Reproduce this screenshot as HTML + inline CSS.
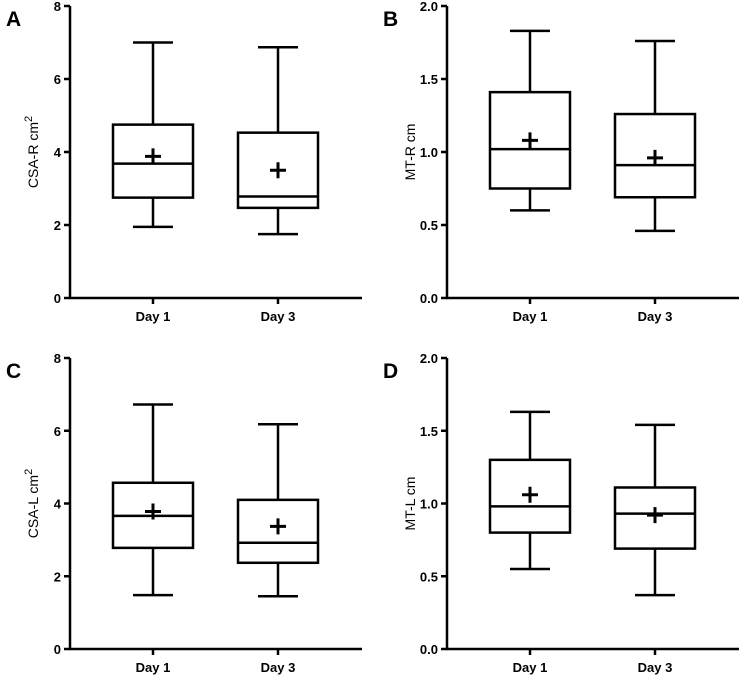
<!DOCTYPE html>
<html><head><meta charset="utf-8"><style>
html,body{margin:0;padding:0;background:#fff}
svg{display:block;font-family:"Liberation Sans",Arial,sans-serif}
</style></head><body>
<svg id="chart" width="749" height="679" viewBox="0 0 749 679"></svg>
<script>
const categories = ["Day 1","Day 3"];
const panelLetters = ["A","B","C","D"];
const panelTitles = ["CSA-R cm","MT-R cm","CSA-L cm","MT-L cm"];
const panelMax = [8,2,8,2];
const tickA = ["0","2","4","6","8"];
const tickB = ["0.0","0.5","1.0","1.5","2.0"];
// [max, q3, median, q1, min, mean] per category
const dataA = [[7.0,4.75,3.68,2.75,1.95,3.88],[6.87,4.53,2.78,2.47,1.75,3.5]];
const dataB = [[1.83,1.41,1.02,0.75,0.60,1.08],[1.76,1.26,0.91,0.69,0.46,0.96]];
const dataC = [[6.72,4.57,3.66,2.78,1.48,3.78],[6.18,4.10,2.92,2.37,1.45,3.37]];
const dataD = [[1.63,1.30,0.98,0.80,0.55,1.06],[1.54,1.11,0.93,0.69,0.37,0.92]];

const svg = document.getElementById('chart');
const NS = "http://www.w3.org/2000/svg";
function mk(tag, attrs, parent){
  const e = document.createElementNS(NS, tag);
  for (const k in attrs) e.setAttribute(k, attrs[k]);
  parent.appendChild(e); return e;
}
const panels = [
  {ax:70, top:6, bot:298, data:dataA, ticks:tickA, sup:true},
  {ax:447, top:6, bot:298, data:dataB, ticks:tickB, sup:false},
  {ax:70, top:358, bot:649, data:dataC, ticks:tickA, sup:true},
  {ax:447, top:358, bot:649, data:dataD, ticks:tickB, sup:false}
];
panels.forEach((p, i) => {
  const g = mk('g', {}, svg);
  
  
  const y = v => p.bot - v / panelMax[i] * (p.bot - p.top);
  const xEnd = p.ax + 292;
  const x = k => p.ax + 83 + k * 125;
  const sw = 2.5;
  const letter = mk('text', {x:p.ax-64, y:p.top+20, 'font-size':21, 'font-weight':'bold'}, g);
  letter.textContent = panelLetters[i];
  
  
  const yAxis = mk('line', {x1:p.ax, y1:p.top, x2:p.ax, y2:p.bot, stroke:'#000', 'stroke-width':sw}, g);
  
  
  const xAxis = mk('line', {x1:p.ax-1, y1:p.bot, x2:xEnd, y2:p.bot, stroke:'#000', 'stroke-width':sw}, g);
  
  
  p.ticks.forEach((t, j) => {
    const v = panelMax[i] * j / (p.ticks.length - 1);
    mk('line', {x1:p.ax-6, y1:y(v), x2:p.ax, y2:y(v), stroke:'#000', 'stroke-width':sw}, g);
    const tl = mk('text', {x:p.ax-9, y:y(v)+5, 'font-size':13, 'font-weight':'bold', 'text-anchor':'end'}, g);
    tl.textContent = t;
    
    
  });
  const cy = (p.top + p.bot) / 2;
  const title = mk('text', {x:0, y:0, 'font-size':14, 'text-anchor':'middle', transform:`translate(${p.ax-32},${cy}) rotate(-90)`}, g);
  title.textContent = panelTitles[i];
  if (p.sup) { const s = mk('tspan', {dy:-6, 'font-size':11}, title); s.textContent = '2'; }
  
  
  categories.forEach((c, k) => {
    const cx = x(k);
    mk('line', {x1:cx, y1:p.bot, x2:cx, y2:p.bot+6, stroke:'#000', 'stroke-width':sw}, g);
    const xl = mk('text', {x:cx, y:p.bot+23, 'font-size':13, 'font-weight':'bold', 'text-anchor':'middle'}, g);
    xl.textContent = c;
    
    
    const d = p.data[k];
    const bg = mk('g', {stroke:'#000', 'stroke-width':sw, fill:'none'}, g);
    
    
    mk('line', {x1:cx, y1:y(d[0]), x2:cx, y2:y(d[1])}, bg);
    mk('line', {x1:cx, y1:y(d[3]), x2:cx, y2:y(d[4])}, bg);
    mk('line', {x1:cx-20, y1:y(d[0]), x2:cx+20, y2:y(d[0])}, bg);
    mk('line', {x1:cx-20, y1:y(d[4]), x2:cx+20, y2:y(d[4])}, bg);
    mk('rect', {x:cx-40, y:y(d[1]), width:80, height:y(d[3])-y(d[1])}, bg);
    mk('line', {x1:cx-40, y1:y(d[2]), x2:cx+40, y2:y(d[2])}, bg);
    const m = mk('path', {d:`M${cx-8},${y(d[5])}H${cx+8}M${cx},${y(d[5])-8}V${y(d[5])+8}`, 'stroke-width':3}, bg);
    
    
  });
});
</script>
</body></html>
